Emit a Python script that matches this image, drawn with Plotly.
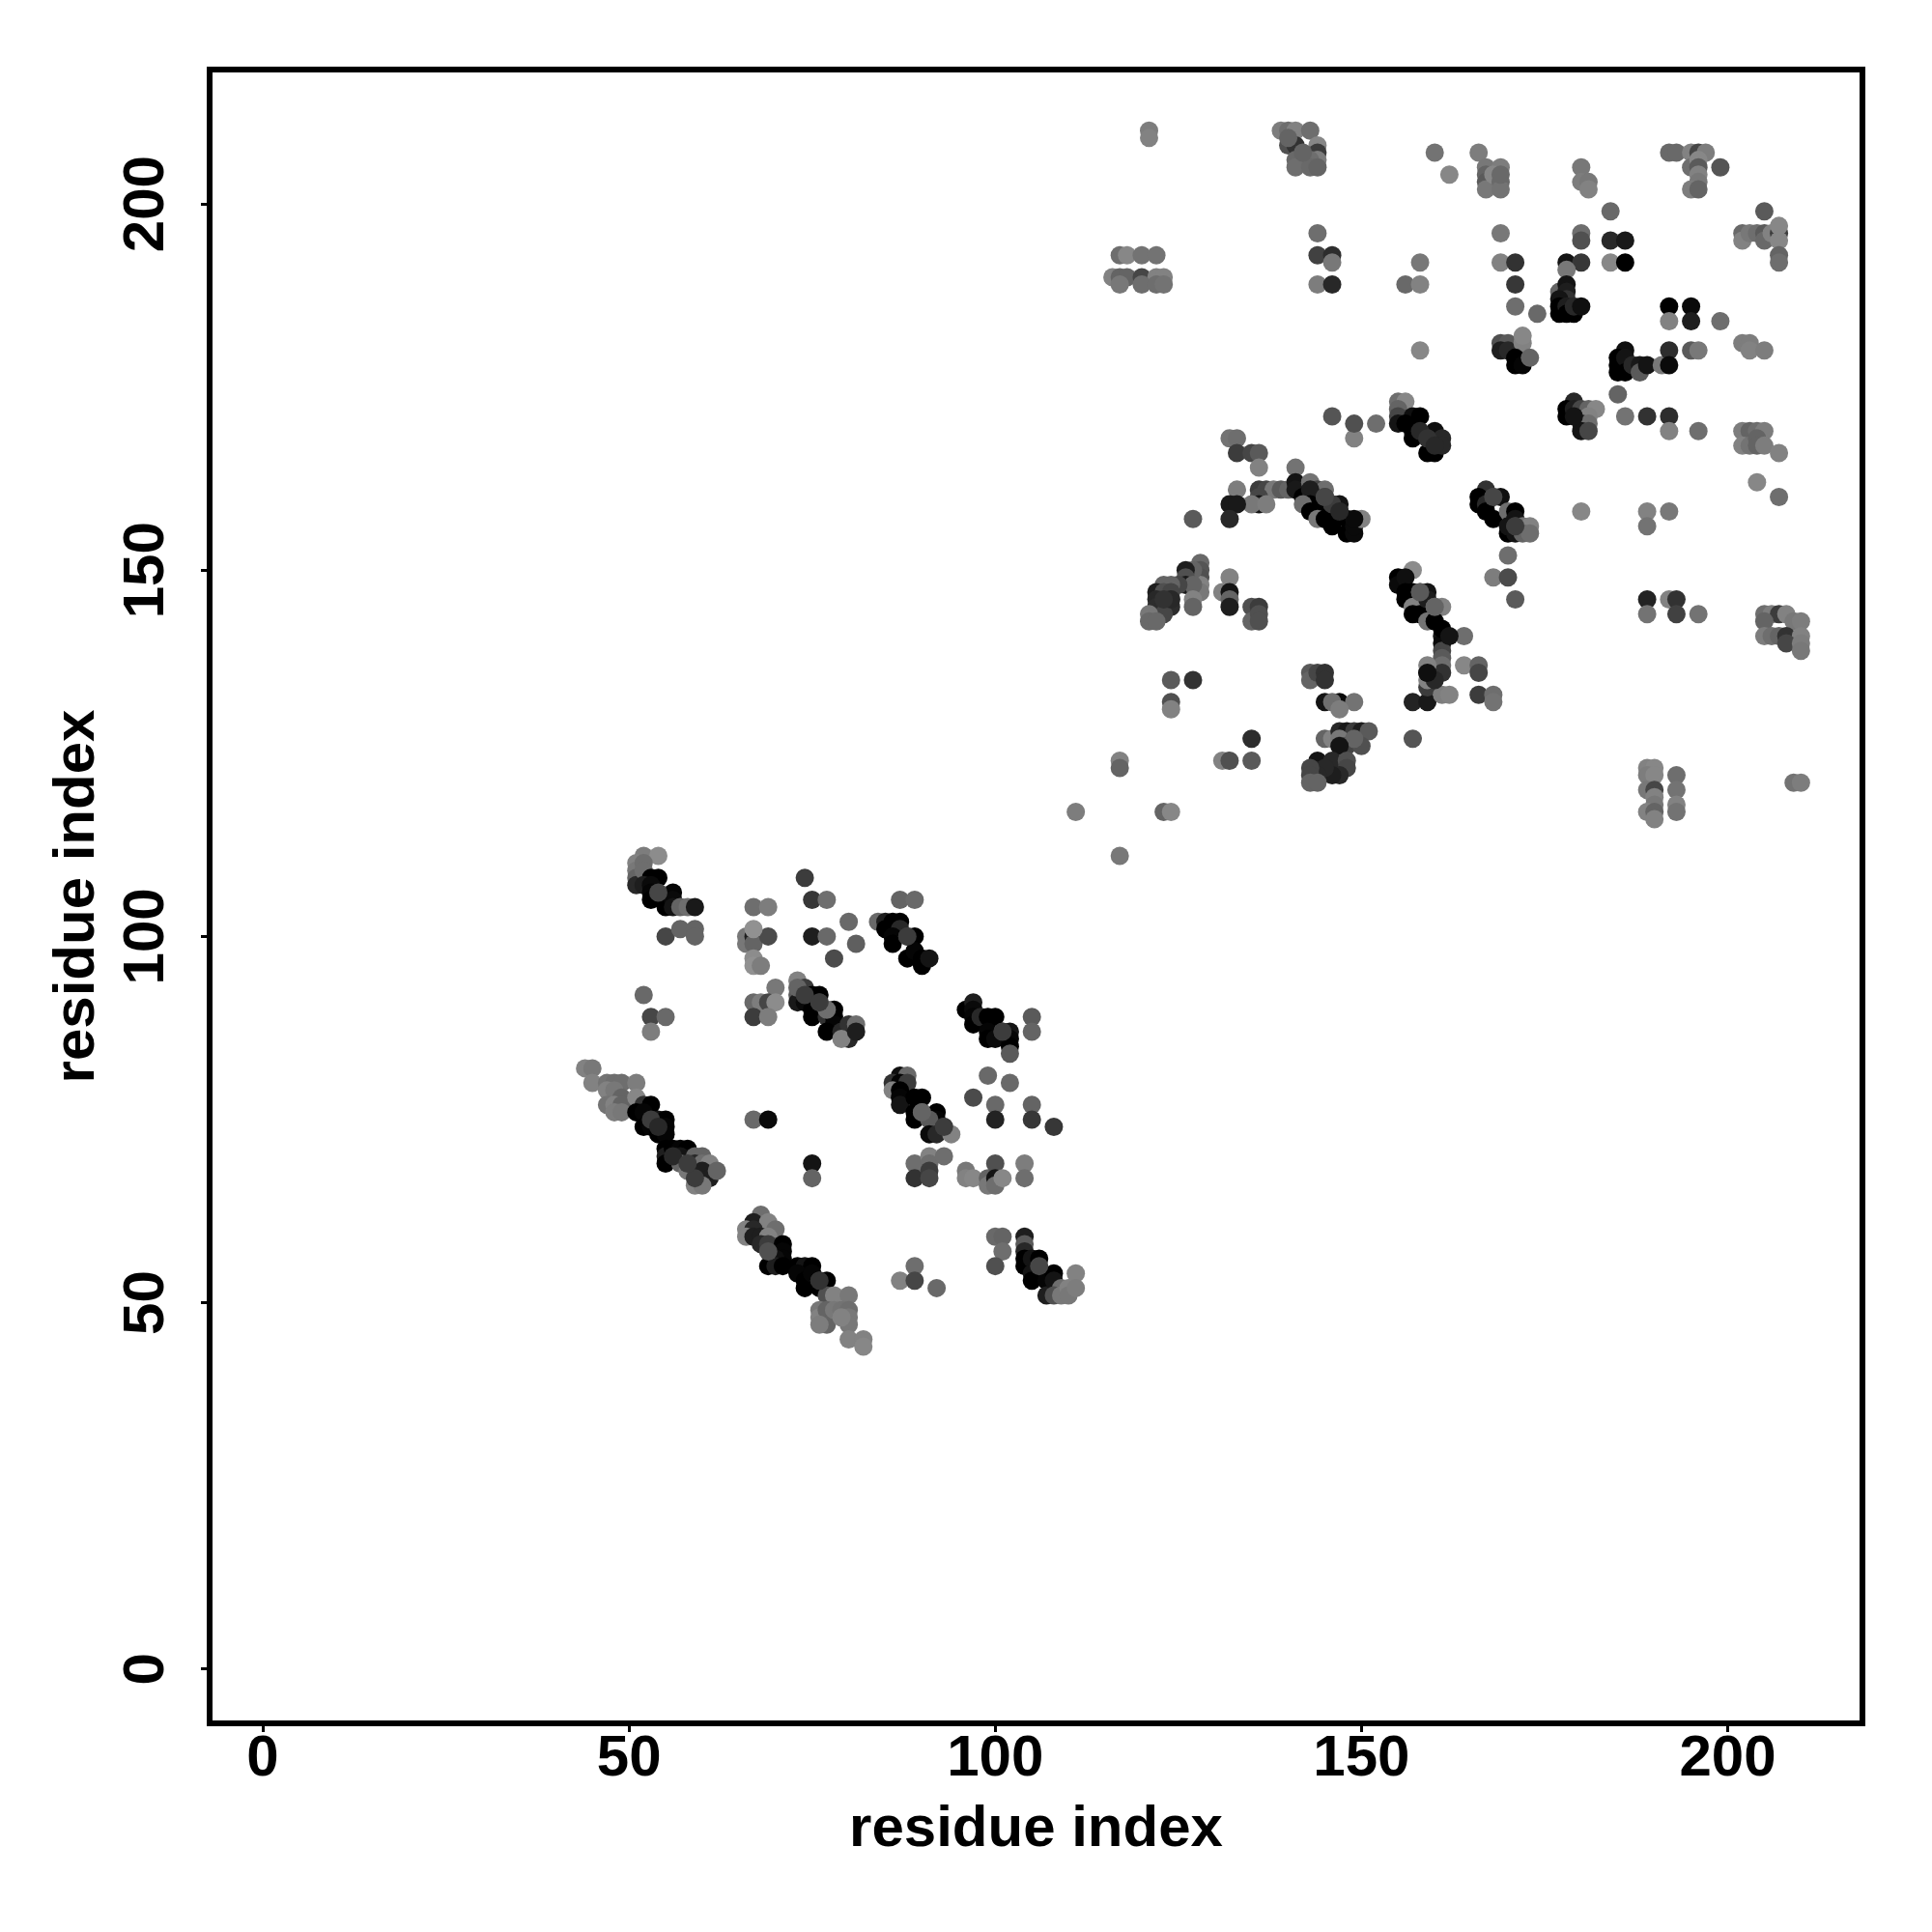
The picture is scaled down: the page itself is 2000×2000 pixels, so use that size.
import plotly.graph_objects as go

# residue contacts: one line per cluster; grey = 0 (black) .. 145 (light)
contact_x = [
 52,54,51,51,51,51,52,52,53,54,52,53,53,53,56,55,55,56,56,57,58,59,55,57,59,59,
 67,69,66,66,67,67,69,67,67,67,68,
 74,75,77,80,75,77,81,78,
 87,89,84,85,86,87,85,86,87,86,86,88,89,88,89,90,90,91,
 52,53,55,53,
 70,67,68,69,70,67,69,
 73,73,74,73,73,75,76,74,75,75,76,77,78,77,78,78,77,79,80,81,80,79,81,
 96,97,97,97,97,98,99,100,99,99,100,101,102,102,102,102,105,105,
 87,88,86,87,88,86,87,87,87,89,90,89,89,90,92,92,91,93,91,92,94,93,
 99,102,97,100,100,105,105,108,
 44,45,45,47,48,49,51,47,48,49,47,48,49,48,49,51,52,53,51,52,54,55,52,53,54,55,55,55,55,55,56,57,58,57,57,58,59,60,59,60,61,60,61,62,59,60,59,
 67,69,75,75,
 89,89,91,91,91,91,93,
 96,96,97,99,99,100,100,100,101,104,104,
 68,67,69,66,67,70,66,67,68,69,68,69,71,71,71,70,69,70,71,73,74,75,73,74,74,75,76,77,76,77,78,80,76,76,77,77,78,79,80,80,80,80,82,82,79,76,
 89,87,89,92,
 100,101,101,100,
 104,104,104,104,104,105,106,105,105,107,108,107,108,109,108,109,110,110,111,111,
 121,121,139,140,141,143,140,141,140,144,144,144,143,141,141,143,144,142,160,162,
 117,118,120,122,116,117,118,120,122,123,117,120,122,123,
 144,144,146,146,144,146,158,156,158,158,
 166,167,169,167,167,167,168,169,169,169,180,180,181,181,184,
 169,180,180,184,186,184,186,169,171,171,171,174,178,180,178,
 177,178,178,178,177,177,177,178,178,179,179,180,
 192,195,192,195,199,
 192,193,195,196,197,195,196,196,199,196,196,195,196,
 205,202,202,203,204,205,205,206,207,207,207,207,207,
 169,170,169,170,171,172,172,171,171,172,172,173,
 186,185,185,185,186,186,187,188,188,189,191,192,192,195,196,
 202,203,203,205,185,
 179,178,178,179,180,181,182,181,180,181,180,181,179,
 186,189,192,192,196,
 202,203,204,205,202,203,204,204,205,207,
 132,133,133,135,136,136,141,149,149,146,152,
 155,156,155,155,155,157,158,156,157,157,159,160,160,161,161,159,158,
 133,136,137,138,139,140,141,141,143,144,145,136,136,135,137,132,133,132,127,
 142,143,143,142,143,144,145,146,147,145,146,147,148,148,149,149,150,149,144,145,
 128,128,128,128,128,127,126,126,126,127,127,127,125,123,124,122,123,124,122,124,124,122,123,123,121,121,122,
 132,131,132,132,132,135,136,135,136,136,
 124,127,124,124,135,117,117,131,132,135,111,117,123,124,
 143,143,144,145,145,
 145,147,146,149,147,
 145,146,147,148,149,150,151,147,148,150,149,147,
 144,146,148,148,147,146,145,144,143,143,143,144,
 157,157,159,159,161,159,159,160,161,161,161,161,161,161,160,159,159,
 155,155,157,156,156,156,157,158,159,157,158,157,159,159,160,161,160,161,
 204,207,167,166,168,169,166,167,167,168,170,171,171,170,170,171,171,172,173,172,173,
 170,168,170,171,180,189,192,189,
 189,192,193,189,193,196,
 205,206,207,208,205,209,210,205,206,207,208,210,208,210,210,164,162,
 164,166,166,166,168,168,162,
 189,190,189,190,189,190,190,190,189,190,193,193,193,193,209,210,190,
 54,74,77,76,88,90,101,69,76,106,53,54,56,58,146,145,147,158,160,168,171,159,160,124,123,
]
contact_y = [
 111,111,110,109,108,107,110,109,108,108,107,107,106,105,106,105,104,105,104,104,104,104,100,101,101,100,
 104,104,100,99,100,99,100,101,97,96,96,
 108,105,105,102,100,100,99,97,
 105,105,102,102,102,102,101,101,101,100,99,100,100,97,98,97,96,97,
 92,89,89,87,
 93,91,91,91,91,89,89,
 94,92,93,91,93,92,92,91,90,89,91,90,90,89,89,88,87,87,88,88,86,86,87,
 90,91,90,89,88,89,89,89,87,86,86,87,87,86,85,84,89,87,
 81,81,80,80,80,79,79,78,77,78,78,76,75,76,76,75,75,74,73,73,73,74,
 81,80,78,77,75,77,75,74,
 82,82,80,80,80,80,80,79,79,78,77,77,77,76,76,78,77,77,76,76,75,75,74,74,73,74,73,71,70,69,71,71,71,70,69,68,70,70,69,69,69,68,67,68,66,66,67,
 75,75,69,67,
 69,67,70,69,68,67,70,
 68,67,67,67,66,69,67,66,67,69,67,
 62,61,61,60,60,60,59,59,59,59,58,58,58,57,56,56,55,55,55,55,55,55,54,53,52,54,53,53,52,51,51,51,49,48,49,47,49,49,49,48,47,45,45,44,48,47,
 55,53,53,52,
 59,59,57,55,
 59,58,57,56,55,56,56,54,53,53,54,51,53,52,51,51,52,51,54,52,
 210,209,210,210,210,210,208,208,209,208,207,206,206,206,205,205,205,207,207,204,
 193,193,193,193,190,190,190,190,190,190,189,189,189,189,
 196,193,193,192,189,189,192,189,189,180,
 207,205,205,204,203,202,204,203,202,204,205,203,203,202,199,
 196,196,195,195,195,192,192,192,192,189,186,185,192,192,191,
 188,189,188,187,187,186,185,186,185,185,186,186,
 186,186,184,184,184,
 207,207,207,207,207,205,206,205,205,204,203,202,202,
 199,196,195,196,196,196,195,196,196,197,195,193,192,
 181,181,180,180,179,179,181,178,179,178,182,179,
 180,179,178,177,179,177,178,178,177,178,178,180,178,180,180,
 181,181,180,180,174,
 173,172,171,172,172,172,172,171,170,170,169,169,171,
 171,171,171,169,169,
 169,169,169,169,167,167,168,167,167,166,
 168,168,166,166,166,164,164,168,170,171,170,
 173,173,172,171,170,171,171,170,168,169,166,169,166,168,167,168,169,
 161,161,161,161,161,161,162,161,162,161,161,160,159,159,159,159,159,157,157,
 160,161,159,159,158,158,160,159,159,157,156,158,157,155,155,156,157,157,157,157,
 151,150,149,148,147,150,150,149,148,148,146,145,148,148,148,147,147,147,146,146,145,145,145,144,144,143,143,
 149,147,147,146,145,145,145,143,144,143,
 135,135,132,131,127,124,123,124,124,124,117,111,117,117,
 136,135,136,136,135,
 132,132,132,132,131,
 127,127,128,128,128,128,128,127,126,126,127,126,
 124,124,124,123,122,122,123,122,123,122,121,121,
 127,132,132,134,133,135,136,136,141,140,139,138,137,136,135,137,136,
 149,148,150,149,146,147,147,147,147,145,144,144,146,143,145,145,143,142,
 162,160,161,160,160,160,159,159,158,157,158,158,157,155,156,156,155,156,156,155,155,
 152,149,149,146,158,158,158,156,
 146,146,146,144,144,144,
 144,144,144,144,143,143,143,141,141,141,141,141,140,140,139,141,141,
 137,137,136,133,133,132,133,
 123,123,122,122,120,120,119,118,117,117,122,120,118,117,121,121,116,
 106,92,90,91,100,76,87,57,53,55,75,74,70,69,159,160,158,147,145,160,156,168,167,146,146,
]
contact_grey = [
 125,140,130,120,100,40,110,110,0,0,30,10,5,0,5,5,0,10,20,100,110,25,70,100,100,100,
 110,125,120,120,30,100,75,145,140,145,125,
 60,55,110,105,30,105,95,75,
 100,105,105,30,0,0,0,0,40,5,0,60,0,0,5,0,0,20,
 105,70,105,125,
 120,105,125,70,140,60,125,
 130,90,60,25,100,0,0,10,0,0,60,110,0,50,0,5,0,40,50,110,40,130,30,
 0,30,10,5,0,40,0,0,5,0,10,60,20,5,0,90,90,100,
 15,105,50,5,60,130,0,5,20,0,0,0,0,100,0,5,90,70,10,40,130,60,
 105,105,75,105,35,100,55,55,
 130,120,130,115,110,110,125,130,120,100,115,130,100,125,120,135,50,0,0,5,20,0,0,5,0,5,5,0,30,0,0,5,0,20,100,120,100,100,40,110,130,30,30,100,130,120,60,
 105,10,20,100,
 110,50,130,110,60,70,110,
 120,130,135,100,120,80,20,110,135,125,110,
 110,30,130,130,40,110,130,30,30,130,40,60,0,5,5,15,0,30,0,0,20,0,5,0,0,5,50,0,0,80,130,120,120,130,100,100,120,115,110,120,120,130,130,135,130,125,
 110,130,70,105,
 105,100,110,80,
 30,90,40,0,0,20,0,20,0,5,0,30,20,110,80,120,130,120,130,125,
 125,130,125,110,130,110,80,50,100,135,60,125,110,105,110,105,100,100,115,135,
 110,135,115,115,130,100,100,70,130,130,120,110,110,115,
 110,65,45,120,125,40,120,105,130,135,
 125,120,125,100,90,120,135,105,115,105,120,125,120,130,105,
 120,110,80,40,25,135,0,130,50,55,110,105,20,55,120,
 100,20,30,50,20,0,0,30,0,0,40,15,
 0,10,130,30,110,
 105,105,130,70,125,110,135,90,85,130,120,125,100,
 90,105,130,120,110,90,105,130,60,135,135,100,110,
 80,90,30,40,20,40,130,0,0,5,135,100,
 15,0,0,0,20,0,40,25,90,20,120,45,10,90,120,
 125,125,130,125,100,
 40,0,0,30,70,100,135,130,30,110,20,70,20,
 115,50,45,130,110,
 125,100,110,125,130,115,100,100,125,130,
 115,110,60,70,90,130,115,130,80,85,110,
 110,135,100,70,20,15,0,0,0,0,0,15,0,40,40,50,40,
 125,60,70,120,90,100,20,25,115,70,110,70,20,120,125,25,25,40,90,
 0,30,0,110,0,0,70,60,20,0,0,40,0,0,10,10,130,10,120,0,
 105,85,80,130,120,100,30,80,25,100,130,100,70,100,100,30,80,70,40,60,45,45,45,70,120,105,105,
 130,130,20,100,30,80,60,100,80,80,
 90,50,80,130,45,130,100,130,80,90,125,120,100,135,
 90,100,70,50,50,
 20,10,110,115,125,
 100,130,40,25,60,30,90,120,70,80,100,20,
 20,40,80,70,40,30,40,40,70,70,100,100,
 85,35,25,60,125,130,15,100,20,10,70,90,110,50,40,130,15,
 0,10,140,15,0,0,0,90,20,130,0,0,30,115,100,130,0,0,
 135,110,50,0,70,15,0,40,0,0,110,0,20,0,20,60,20,115,130,100,110,
 110,125,75,90,135,130,120,115,
 35,130,50,115,65,115,
 110,125,60,130,100,120,125,125,110,100,50,130,70,125,120,110,20,
 135,100,70,60,110,115,130,
 130,135,125,135,120,70,130,120,130,100,110,115,130,115,115,125,130,
 70,60,110,60,60,100,60,80,50,70,60,40,40,60,60,70,40,90,100,70,60,50,40,40,50,
]
assert len(contact_x) == len(contact_y) == len(contact_grey), (len(contact_x), len(contact_y), len(contact_grey))

x_ticks = [0, 50, 100, 150, 200]
y_ticks = [0, 50, 100, 150, 200]
axis_title = "residue index"

FONT = "Liberation Sans"
fig = go.Figure(go.Scatter(
    x=contact_x, y=contact_y, mode="markers",
    marker=dict(size=19, color=[f"rgb({g},{g},{g})" for g in contact_grey], line=dict(width=0), opacity=1),
))
common = dict(showgrid=False, zeroline=False, showline=True, mirror=True, linecolor="black", linewidth=6,
              ticks="outside", ticklen=6, tickwidth=3, tickcolor="black",
              tickfont=dict(family=FONT, size=60, color="black", weight="bold"), automargin=False)
fig.update_xaxes(range=[-6.86, 218.0], tickvals=x_ticks, ticklabelstandoff=-27,
                 title=dict(text=axis_title, standoff=21, font=dict(family=FONT, size=60, color="black", weight="bold")), **common)
fig.update_yaxes(range=[-7.03, 217.95], tickvals=y_ticks, tickangle=-90, ticklabelstandoff=15, ticklabelshift=9,
                 title=dict(text=axis_title, standoff=0, font=dict(family=FONT, size=60, color="black", weight="bold")), **common)
fig.update_layout(width=2000, height=2000, autosize=False, showlegend=False, plot_bgcolor="white", paper_bgcolor="white",
                  margin=dict(l=219.7, r=74.7, t=75, b=219, autoexpand=False))
fig.write_html("out.html", post_script="document.body.style.margin='0';", config=dict(displayModeBar=False))
